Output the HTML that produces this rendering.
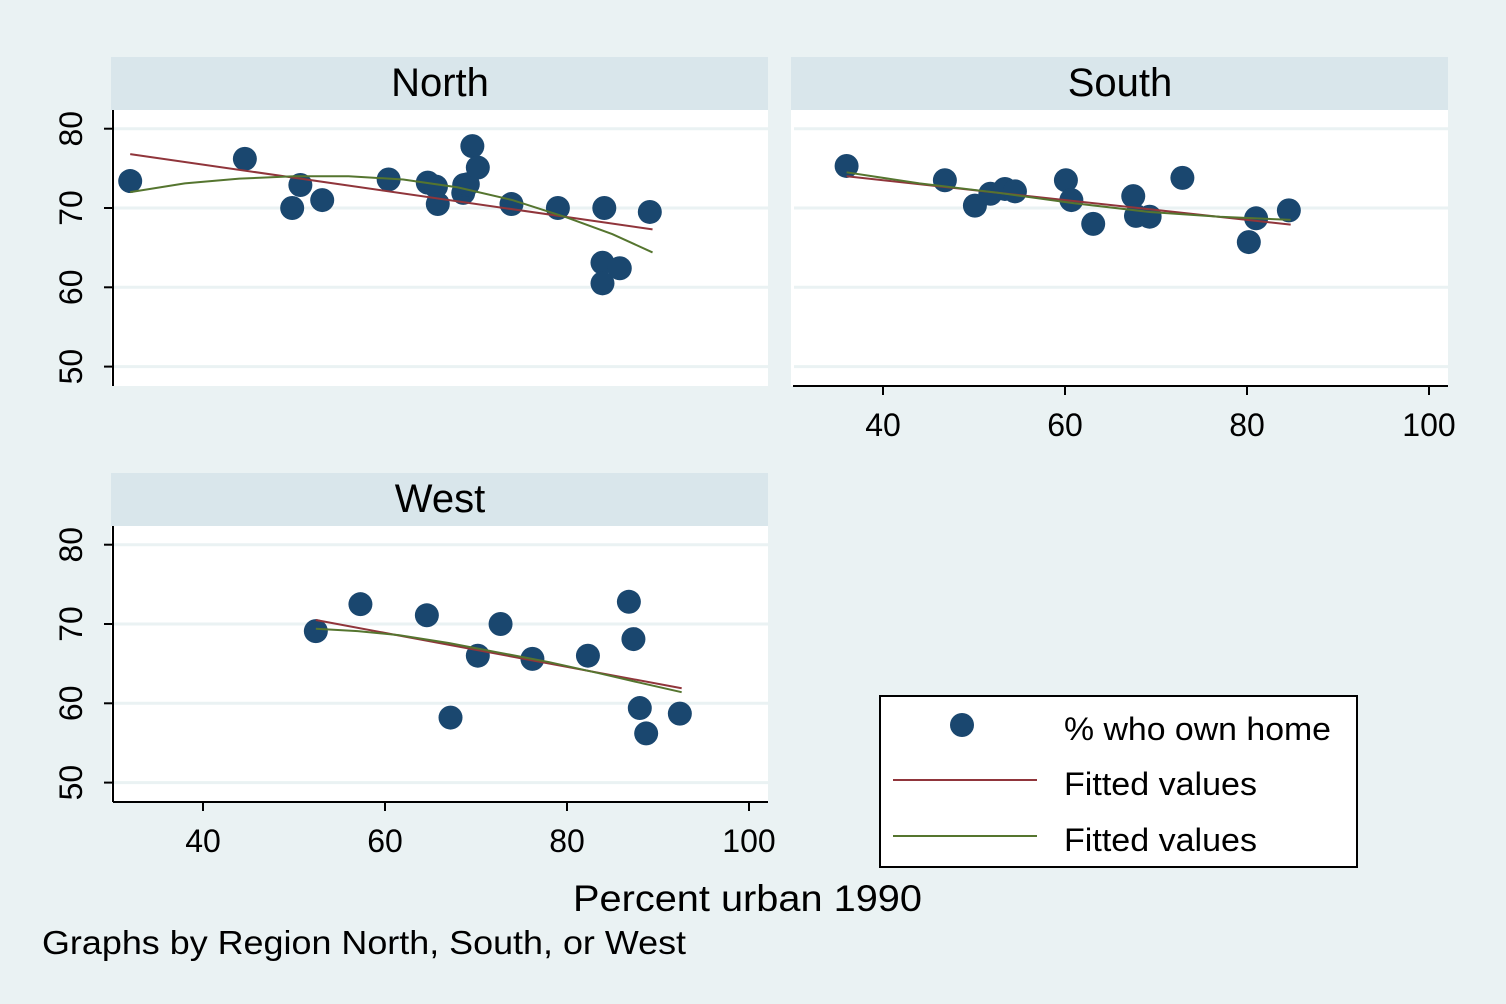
<!DOCTYPE html>
<html><head><meta charset="utf-8"><style>
body{margin:0;background:#eaf2f3;}
svg{display:block;font-family:"Liberation Sans",Arial,sans-serif;}
</style></head><body>
<svg id="chart" width="1506" height="1004">
<rect width="1506" height="1004" fill="#eaf2f3"/>
<g id="g"></g>
</svg>
<script>
// Data (x = percent urban, y = % who own home)
const northX=[32,44.6,49.8,50.7,53.1,60.4,64.7,65.6,65.8,68.6,68.7,69.1,69.6,70.2,73.9,79,83.9,83.9,84.1,85.8,89.1];
const northY=[73.4,76.2,70,72.9,71,73.6,73.2,72.7,70.5,71.9,72.9,73,77.8,75.1,70.5,70,63.1,60.5,70,62.4,69.5];
const southX=[36,46.8,50.1,51.8,53.4,54.5,60.1,60.7,63.1,67.5,67.8,69.3,72.9,80.2,81,84.6];
const southY=[75.3,73.5,70.3,71.8,72.4,72.1,73.5,71,68,71.5,69,68.9,73.8,65.7,68.7,69.7];
const westX=[52.4,57.3,64.6,67.2,70.2,72.7,76.2,82.3,86.8,87.3,88,88.7,92.4];
const westY=[69.1,72.5,71.1,58.2,66,70,65.6,66,72.8,68.1,59.4,56.2,58.7];
const northFitLinX=[32,89.4],northFitLinY=[76.8,67.3];
const northFitQuadX=[32,38,44,50,56,62,68,74,80,85,89.4],northFitQuadY=[72,73.1,73.7,74,74,73.6,72.6,71,68.8,66.7,64.4];
const southFitLinX=[36,84.8],southFitLinY=[74,67.9];
const southFitQuadX=[36,44,52.8,61,69.3,77,84.8],southFitQuadY=[74.5,73.1,71.9,70.6,69.5,68.9,68.5];
const westFitLinX=[52.4,92.6],westFitLinY=[70.5,61.9];
const westFitQuadX=[52.4,57,61.5,67,72.5,78,83.5,88,92.6],westFitQuadY=[69.4,69.1,68.6,67.6,66.4,65.2,63.8,62.6,61.4];
const yTicks=[50,60,70,80], xTicks=[40,60,80,100];

const NS="http://www.w3.org/2000/svg", G=document.getElementById('g');
function el(t,a,p){const e=document.createElementNS(NS,t);for(const k in a)e.setAttribute(k,a[k]);(p||G).appendChild(e);return e;}
function txt(s,a,p){const e=el('text',a,p);e.textContent=s;return e;}

const panels=[
 {name:'north',title:'North',x0:111,hy:57,y0:110,y1:386,xs:northX,ys:northY,lx:northFitLinX,ly:northFitLinY,qx:northFitQuadX,qy:northFitQuadY,yaxis:true,xaxis:false},
 {name:'south',title:'South',x0:791,hy:57,y0:110,y1:386,xs:southX,ys:southY,lx:southFitLinX,ly:southFitLinY,qx:southFitQuadX,qy:southFitQuadY,yaxis:false,xaxis:true},
 {name:'west',title:'West',x0:111,hy:473,y0:526,y1:802,xs:westX,ys:westY,lx:westFitLinX,ly:westFitLinY,qx:westFitQuadX,qy:westFitQuadY,yaxis:true,xaxis:true}
];
panels.forEach(p=>{
 const g=el('g',{});
 
 
 const sx=v=>p.x0+92+(v-40)*9.1;
 const yBase=p.y0+98;
 const sy=v=>yBase-(v-70)*7.93;
 const h=el('rect',{x:p.x0,y:p.hy,width:657,height:53,fill:'#d9e6eb'},g);
 
 const t=txt(p.title,{x:p.x0+329,y:p.hy+39,'font-size':40,'text-anchor':'middle',fill:'#000'},g);
 
 el('rect',{x:p.x0,y:p.y0,width:657,height:p.y1-p.y0,fill:'#fff'},g);
 yTicks.forEach(v=>{el('line',{x1:p.x0+3,x2:p.x0+657,y1:sy(v),y2:sy(v),stroke:'#eaf2f3','stroke-width':3},g);});
 if(p.yaxis){
  el('line',{x1:113,x2:113,y1:p.y0,y2:p.y1,stroke:'#000','stroke-width':2},g);
  yTicks.forEach(v=>{el('line',{x1:104,x2:113,y1:sy(v),y2:sy(v),stroke:'#000','stroke-width':2},g);
   const l=txt(String(v),{x:0,y:0,'font-size':32,'text-anchor':'middle',transform:`translate(82,${sy(v)}) rotate(-90)`},g);
   });
 }
 if(p.xaxis){
  el('line',{x1:p.x0+2,x2:p.x0+657,y1:p.y1,y2:p.y1,stroke:'#000','stroke-width':2},g);
  xTicks.forEach(v=>{el('line',{x1:sx(v),x2:sx(v),y1:p.y1,y2:p.y1+9,stroke:'#000','stroke-width':2},g);
   const l=txt(String(v),{x:sx(v),y:p.y1+50,'font-size':32,'text-anchor':'middle'},g);
   });
 }
 p.xs.forEach((x,i)=>{const c=el('circle',{cx:sx(x),cy:sy(p.ys[i]),r:12,fill:'#1a476f'},g);
  });
 const lin=el('polyline',{points:p.lx.map((x,i)=>sx(x)+','+sy(p.ly[i])).join(' '),fill:'none',stroke:'#90353b','stroke-width':2},g);
 
 const q=el('polyline',{points:p.qx.map((x,i)=>sx(x)+','+sy(p.qy[i])).join(' '),fill:'none',stroke:'#55752f','stroke-width':2},g);
 
});
</script>
<script>
const svg=document.getElementById('chart');
const lg=document.createElementNS("http://www.w3.org/2000/svg",'g');


lg.innerHTML='<rect x="880" y="696" width="477" height="171" fill="#fff" stroke="#000" stroke-width="2"/>'+
'<circle cx="962" cy="725" r="12" fill="#1a476f"/>'+
'<text x="1064" y="740" font-size="32" textLength="267" lengthAdjust="spacingAndGlyphs">% who own home</text>'+
'<line x1="893" x2="1037" y1="780" y2="780" stroke="#90353b" stroke-width="2"/>'+
'<text x="1064" y="795" font-size="32" textLength="193" lengthAdjust="spacingAndGlyphs">Fitted values</text>'+
'<line x1="893" x2="1037" y1="836" y2="836" stroke="#55752f" stroke-width="2"/>'+
'<text x="1064" y="851" font-size="32" textLength="193" lengthAdjust="spacingAndGlyphs">Fitted values</text>';
svg.appendChild(lg);
const xt=document.createElementNS("http://www.w3.org/2000/svg",'text');


xt.setAttribute('x','573');xt.setAttribute('y','911');xt.setAttribute('font-size','37');
xt.setAttribute('textLength','349');xt.setAttribute('lengthAdjust','spacingAndGlyphs');
xt.textContent='Percent urban 1990';svg.appendChild(xt);
const note=document.createElementNS("http://www.w3.org/2000/svg",'text');


note.setAttribute('x','42');note.setAttribute('y','954');note.setAttribute('font-size','33');
note.setAttribute('textLength','644');note.setAttribute('lengthAdjust','spacingAndGlyphs');
note.textContent='Graphs by Region North, South, or West';svg.appendChild(note);
</script>
</body></html>
